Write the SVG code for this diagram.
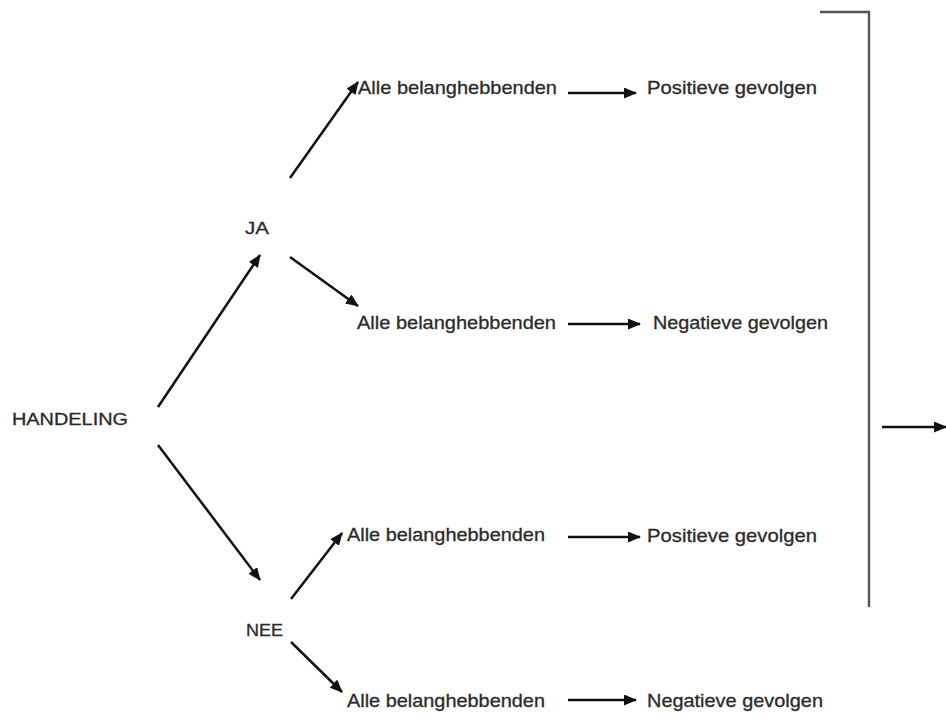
<svg xmlns="http://www.w3.org/2000/svg" width="946" height="722" viewBox="0 0 946 722">
<style>
  text { font-family: "Liberation Sans", Arial, sans-serif; font-size: 19px; fill: #2a2a2a; stroke: #2a2a2a; stroke-width: 0.3; }
  .small { font-size: 17px; }
  .conn line { stroke: #111; stroke-width: 2.5; fill: none; }
  .arr { marker-end: url(#ah); }
  .bracket { stroke: #555; stroke-width: 2.4; fill: none; }
</style>
<defs>
  <marker id="ah" markerUnits="userSpaceOnUse" markerWidth="13" markerHeight="11" refX="12" refY="5.5" orient="auto">
    <path d="M0,0 L13,5.5 L0,11 z" fill="#111"/>
  </marker>
</defs>
<rect width="946" height="722" fill="#fff"/>

<g id="handeling"><text class="small" x="12" y="425" textLength="116" lengthAdjust="spacingAndGlyphs">HANDELING</text></g>
<g id="ja"><text class="small" x="245" y="234" textLength="24" lengthAdjust="spacingAndGlyphs">JA</text></g>
<g id="nee"><text class="small" x="246" y="636" textLength="37" lengthAdjust="spacingAndGlyphs">NEE</text></g>

<g id="alle1"><text x="358" y="94" textLength="199" lengthAdjust="spacingAndGlyphs">Alle belanghebbenden</text></g>
<g id="pos1"><text x="647" y="94" textLength="170" lengthAdjust="spacingAndGlyphs">Positieve gevolgen</text></g>
<g id="alle2"><text x="357" y="329" textLength="199" lengthAdjust="spacingAndGlyphs">Alle belanghebbenden</text></g>
<g id="neg2"><text x="653" y="329" textLength="175" lengthAdjust="spacingAndGlyphs">Negatieve gevolgen</text></g>
<g id="alle3"><text x="347" y="541" textLength="198" lengthAdjust="spacingAndGlyphs">Alle belanghebbenden</text></g>
<g id="pos3"><text x="647" y="542" textLength="170" lengthAdjust="spacingAndGlyphs">Positieve gevolgen</text></g>
<g id="alle4"><text x="347" y="707" textLength="198" lengthAdjust="spacingAndGlyphs">Alle belanghebbenden</text></g>
<g id="neg4"><text x="647" y="707" textLength="176" lengthAdjust="spacingAndGlyphs">Negatieve gevolgen</text></g>

<g id="bracket">
  <polyline class="bracket" points="820,12 869,12 869,607"/>
</g>

<g class="conn" id="connectors">
  <line class="arr" x1="158" y1="407" x2="260" y2="255"/>
  <line class="arr" x1="158" y1="445" x2="260" y2="580"/>
  <line class="arr" x1="290" y1="178" x2="358" y2="82"/>
  <line class="arr" x1="290" y1="257" x2="358" y2="306"/>
  <line class="arr" x1="291" y1="599" x2="342" y2="533"/>
  <line class="arr" x1="291" y1="642" x2="342" y2="692"/>
  <line class="arr" x1="568" y1="93" x2="636" y2="93"/>
  <line class="arr" x1="568" y1="324" x2="640" y2="324"/>
  <line class="arr" x1="568" y1="537" x2="640" y2="537"/>
  <line class="arr" x1="568" y1="700" x2="636" y2="700"/>
  <line class="arr" x1="882" y1="427" x2="946" y2="427"/>
</g>
</svg>
